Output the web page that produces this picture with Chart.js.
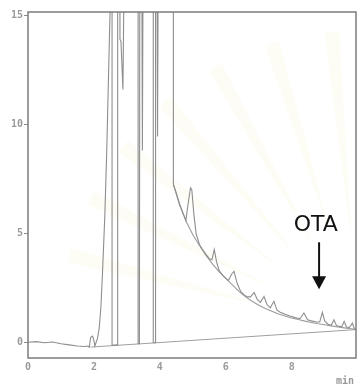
<!DOCTYPE html>
<html>
<head>
<meta charset="utf-8">
<script src="https://cdn.jsdelivr.net/npm/chart.js@4.4.1/dist/chart.umd.min.js"></script>
<style>
  html, body { margin: 0; padding: 0; background: #fff; }
  #wrap { width: 362px; height: 388px; position: relative; }
</style>
</head>
<body>
<div id="wrap"><canvas id="chart"></canvas></div>
<script>
// values: [min, signal]; 30 = pen off scale
const OFF = 30;

const frontTrace = [
  [0, 0.02], [0.25, 0.05], [0.5, 0.0], [0.75, 0.03], [1.0, -0.05], [1.25, -0.1],
  [1.5, -0.15], [1.7, -0.17], [1.82, -0.15], [1.86, -0.2], [1.9, 0.25], [1.96, 0.3],
  [2.0, 0.1], [2.03, -0.15], [2.11, 0.21], [2.16, 0.67], [2.21, 1.6], [2.26, 3.2],
  [2.33, 5.8], [2.39, 8.85], [2.45, 12.7], [2.49, 15.2], [2.5, OFF]
];

const peakCluster = [
  [2.55, OFF], [2.55, -0.12], [2.70, -0.1], [2.72, OFF], [2.77, OFF], [2.79, 13.9],
  [2.82, 13.8], [2.88, 11.6], [3.0, OFF], [3.34, OFF], [3.34, -0.05], [3.38, -0.05],
  [3.40, OFF], [3.43, OFF], [3.47, 8.8], [3.52, OFF], [3.80, OFF], [3.80, 0.0],
  [3.86, 0.0], [3.87, OFF], [3.89, OFF], [3.93, 9.45], [3.98, OFF], [4.41, OFF]
];

const tailTrace = [
  [4.41, 7.25], [4.5, 6.85], [4.6, 6.35], [4.7, 5.95], [4.79, 5.6], [4.86, 6.4],
  [4.93, 7.1], [4.97, 7.0], [5.03, 5.9], [5.1, 5.0], [5.2, 4.5], [5.3, 4.25],
  [5.4, 4.05], [5.5, 3.85], [5.58, 3.8], [5.65, 4.27], [5.72, 3.7], [5.8, 3.3],
  [5.9, 3.1], [6.0, 2.95], [6.08, 2.85], [6.18, 3.15], [6.25, 3.27], [6.35, 2.7],
  [6.45, 2.35], [6.55, 2.2], [6.65, 2.1], [6.75, 2.1], [6.86, 2.3], [6.95, 2.0],
  [7.05, 1.85], [7.16, 2.12], [7.25, 1.75], [7.35, 1.6], [7.46, 1.9], [7.55, 1.5],
  [7.65, 1.4], [7.8, 1.3], [7.95, 1.22], [8.1, 1.15], [8.25, 1.1], [8.37, 1.36],
  [8.48, 1.05], [8.6, 1.0], [8.75, 0.95], [8.85, 0.95], [8.93, 1.39], [9.0, 1.0],
  [9.1, 0.85], [9.2, 0.8], [9.28, 1.05], [9.36, 0.78], [9.45, 0.75], [9.52, 0.74],
  [9.59, 0.98], [9.66, 0.72], [9.75, 0.7], [9.84, 0.9], [9.9, 0.64], [9.95, 0.62]
];

const fitCurve = [
  [4.41, 7.25], [4.6, 6.3], [4.8, 5.55], [5.0, 4.95], [5.2, 4.45], [5.4, 4.0],
  [5.6, 3.6], [5.8, 3.25], [6.0, 2.95], [6.2, 2.65], [6.4, 2.35], [6.6, 2.1],
  [6.8, 1.9], [7.0, 1.72], [7.2, 1.57], [7.4, 1.44], [7.6, 1.32], [7.8, 1.22],
  [8.0, 1.13], [8.2, 1.06], [8.4, 0.99], [8.6, 0.93], [8.8, 0.87], [9.0, 0.82],
  [9.2, 0.77], [9.4, 0.72], [9.6, 0.68], [9.8, 0.64], [9.95, 0.6]
];

const integrationBaseline = [[1.9, -0.2], [9.95, 0.6]];

const xTicks = [0, 2, 4, 6, 8];
const yTicks = [0, 5, 10, 15];

// arrow + label for the OTA peak (data units)
const otaLabel = { text: "OTA", x: 8.73, y: 5.4 };
const otaArrow = { x: 8.83, yTop: 4.6, yTip: 2.45 };

const toPts = (arr) => arr.map((p) => ({ x: p[0], y: p[1] }));
const penColor = "#8e8e8e";

const frame = {
  id: "frame",
  beforeDraw(chart) {
    const c = chart.ctx;
    // very faint watermark rays, upper right
    c.save();
    c.fillStyle = "rgba(250, 244, 222, 0.3)";
    const cx = 360, cy = 330;
    for (let i = 0; i < 7; i++) {
      const ang = Math.PI * (1.08 + i * 0.065);
      c.beginPath();
      c.moveTo(cx + Math.cos(ang) * 90, cy + Math.sin(ang) * 90);
      c.lineTo(cx + Math.cos(ang - 0.025) * 300, cy + Math.sin(ang - 0.025) * 300);
      c.lineTo(cx + Math.cos(ang + 0.025) * 300, cy + Math.sin(ang + 0.025) * 300);
      c.closePath();
      c.fill();
    }
    c.restore();
  },
  afterDraw(chart) {
    const c = chart.ctx;
    const a = chart.chartArea;
    const xs = chart.scales.x, ys = chart.scales.y;
    c.save();
    c.strokeStyle = "#7c7c7c";
    c.lineWidth = 1.5;
    c.strokeRect(a.left, a.top, a.right - a.left, a.bottom - a.top);

    c.fillStyle = "#9a9a9a";
    c.font = "bold 10px 'DejaVu Sans Mono'";
    c.textAlign = "right";
    c.textBaseline = "middle";
    c.fillText("min", 354, 381);

    // OTA annotation
    c.fillStyle = "#111";
    c.font = "22px 'DejaVu Sans'";
    c.textAlign = "center";
    c.fillText(otaLabel.text, xs.getPixelForValue(otaLabel.x), ys.getPixelForValue(otaLabel.y));
    const ax = xs.getPixelForValue(otaArrow.x);
    const top = ys.getPixelForValue(otaArrow.yTop);
    const tip = ys.getPixelForValue(otaArrow.yTip);
    c.strokeStyle = "#111";
    c.lineWidth = 2;
    c.beginPath();
    c.moveTo(ax, top);
    c.lineTo(ax, tip - 12);
    c.stroke();
    c.beginPath();
    c.moveTo(ax - 7, tip - 13);
    c.lineTo(ax + 7, tip - 13);
    c.lineTo(ax, tip);
    c.closePath();
    c.fill();
    c.restore();
  }
};

const tickFont = { family: "DejaVu Sans Mono", size: 10, weight: "bold" };

const ctx = document.getElementById("chart").getContext("2d");
const myChart = new Chart(ctx, {
  type: "line",
  data: {
    datasets: [
      { data: toPts(frontTrace.concat(peakCluster, tailTrace)), borderColor: penColor, borderWidth: 1.1 },
      { data: toPts(fitCurve), borderColor: "#9c9c9c", borderWidth: 1.1 },
      { data: toPts(integrationBaseline), borderColor: "#a0a0a0", borderWidth: 1 }
    ]
  },
  options: {
    responsive: true,
    maintainAspectRatio: false,
    animation: false,
    elements: { point: { radius: 0 }, line: { tension: 0 } },
    layout: { padding: { top: 12, right: 6, left: 0, bottom: 0 } },
    plugins: { legend: { display: false }, tooltip: { enabled: false } },
    scales: {
      x: {
        type: "linear",
        min: 0,
        max: 9.95,
        afterBuildTicks: (s) => { s.ticks = xTicks.map((v) => ({ value: v })); },
        afterFit: (s) => { s.height = 30; },
        grid: { display: false, tickLength: 0 },
        border: { display: false },
        ticks: { color: "#9a9a9a", font: tickFont, padding: 3 }
      },
      y: {
        type: "linear",
        min: -0.7,
        max: 15.15,
        afterBuildTicks: (s) => { s.ticks = yTicks.map((v) => ({ value: v })); },
        afterFit: (s) => { s.width = 28; },
        grid: { drawOnChartArea: false, tickLength: 4, color: "#8a8a8a" },
        border: { display: false },
        ticks: { color: "#9a9a9a", font: tickFont, padding: 1 }
      }
    }
  },
  plugins: [frame]
});
</script>
</body>
</html>
